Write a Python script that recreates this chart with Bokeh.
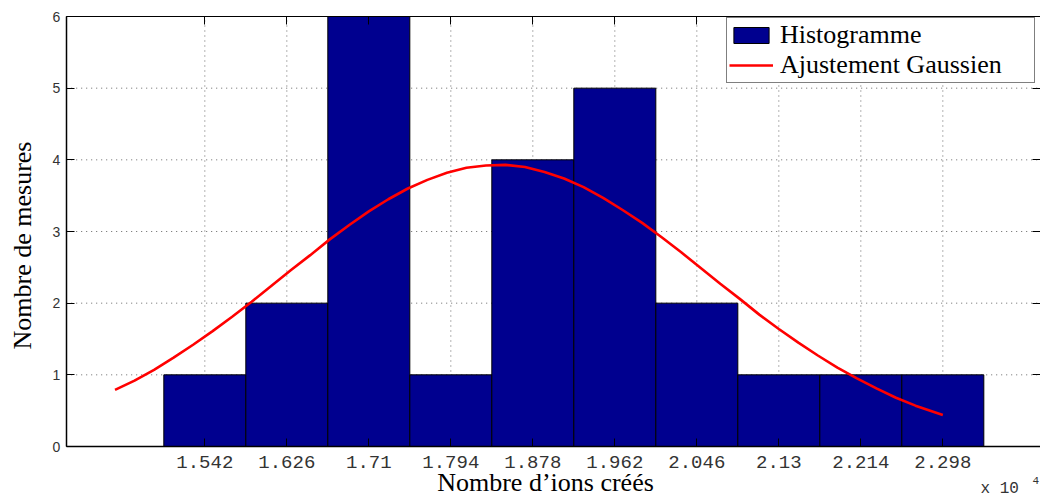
import math
from bokeh.plotting import figure
from bokeh.models import (Range1d, FixedTicker, LinearAxis, Legend, LegendItem, Label,
                          CustomJSTickFormatter)
from bokeh.embed import file_html
from bokeh.resources import INLINE

# ---- data (x values in units of 10^4) ----
bin_centers = [1.542, 1.626, 1.710, 1.794, 1.878, 1.962, 2.046, 2.130, 2.214, 2.298]
counts = [1, 2, 6, 1, 4, 5, 2, 1, 1, 1]
bin_width = 0.084
x_tick_labels = ["1.542", "1.626", "1.71", "1.794", "1.878", "1.962", "2.046", "2.13", "2.214", "2.298"]
y_ticks = [0, 1, 2, 3, 4, 5, 6]

fit_x = [1.45, 1.47, 1.49, 1.51, 1.53, 1.55, 1.57, 1.59, 1.61, 1.63, 1.65, 1.67,
         1.69, 1.71, 1.73, 1.75, 1.77, 1.79, 1.81, 1.83, 1.85, 1.87, 1.89, 1.91,
         1.93, 1.95, 1.97, 1.99, 2.01, 2.03, 2.05, 2.07, 2.09, 2.11, 2.13, 2.15,
         2.17, 2.19, 2.21, 2.23, 2.25, 2.27, 2.298]
fit_y = [0.79, 0.92, 1.07, 1.24, 1.42, 1.61, 1.81, 2.02, 2.24, 2.46, 2.67, 2.89,
         3.09, 3.28, 3.45, 3.60, 3.72, 3.82, 3.89, 3.92, 3.93, 3.90, 3.83, 3.74,
         3.62, 3.47, 3.30, 3.12, 2.92, 2.71, 2.49, 2.27, 2.06, 1.84, 1.64, 1.45,
         1.27, 1.10, 0.95, 0.81, 0.68, 0.57, 0.44]

# axes box (data units)
x_lo, x_hi = 1.40, 2.3975
y_lo, y_hi = 0, 6

# ---- layout: the frame covers the whole canvas, axes are pinned in data space ----
W, H = 1040, 497
AX_L, AX_B, AX_T = 65.7, 446.0, 16.0           # pixel positions of left/bottom/top of the axes box
PX_PER_X = 82.0 / 0.084
PX_PER_Y = (AX_B - AX_T) / (y_hi - y_lo)
view_x = (x_lo - AX_L / PX_PER_X, x_lo + (W - AX_L) / PX_PER_X)
view_y = (y_lo - (H - AX_B) / PX_PER_Y, y_hi + AX_T / PX_PER_Y)

def dx(px):
    return view_x[0] + px / PX_PER_X

def dy(py):
    return view_y[0] + (H - py) / PX_PER_Y

p = figure(width=W, height=H, output_backend="svg", toolbar_location=None,
           x_range=Range1d(*view_x), y_range=Range1d(*view_y),
           min_border=0)
p.background_fill_color = "white"
p.border_fill_color = "white"
p.outline_line_color = None
p.xgrid.visible = False
p.ygrid.visible = False

# dotted grid at the tick positions, inside the axes box
grid_style = dict(line_color="#666666", line_dash="1 4", line_width=1)
p.segment(x0=bin_centers, y0=[y_lo] * len(bin_centers), x1=bin_centers, y1=[y_hi] * len(bin_centers), **grid_style)
p.segment(x0=[x_lo] * len(y_ticks), y0=y_ticks, x1=[x_hi] * len(y_ticks), y1=y_ticks, **grid_style)

bars = p.vbar(x=bin_centers, width=bin_width, top=counts, bottom=0,
              fill_color="#00008F", line_color="black", line_width=1)
curve = p.line(fit_x, fit_y, line_color="#FF0000", line_width=2.6)

xt = FixedTicker(ticks=bin_centers, minor_ticks=[])
yt = FixedTicker(ticks=y_ticks, minor_ticks=[])

xa = p.xaxis[0]
xa.ticker = xt
xa.fixed_location = y_lo
xa.bounds = (x_lo, view_x[1])
xa.major_label_overrides = {c: s for c, s in zip(bin_centers, x_tick_labels)}
xa.major_label_text_font = "Liberation Mono"
xa.major_label_text_font_size = "19px"
xa.major_label_text_color = "#333333"
xa.major_label_standoff = 9
xa.major_tick_in = 8
xa.major_tick_out = 0
xa.minor_tick_line_color = None
xa.axis_line_width = 1.5

ya = p.yaxis[0]
ya.ticker = yt
ya.fixed_location = x_lo
ya.bounds = (y_lo, y_hi)
ya.major_label_text_font = "Liberation Sans"
ya.major_label_text_font_size = "14px"
ya.major_label_text_color = "#333333"
ya.major_label_standoff = 6
ya.major_tick_in = 8
ya.major_tick_out = 0
ya.minor_tick_line_color = None
ya.axis_line_width = 1.5

blank = CustomJSTickFormatter(code="return ''")
top_axis = LinearAxis(ticker=xt, formatter=blank, fixed_location=y_hi, bounds=(x_lo, view_x[1]),
                      major_tick_in=8, major_tick_out=0, major_label_text_color=None,
                      minor_tick_line_color=None, axis_line_width=1)
p.add_layout(top_axis, "above")
right_axis = LinearAxis(ticker=yt, formatter=blank, fixed_location=view_x[1], bounds=(y_lo, y_hi),
                        major_tick_in=8, major_tick_out=0, major_label_text_color=None,
                        minor_tick_line_color=None, axis_line_color=None)
p.add_layout(right_axis, "right")

# axis titles and the exponent note
p.add_layout(Label(x=dx(545), y=dy(482), text="Nombre d\u2019ions cr\u00e9\u00e9s",
                   text_font="Liberation Serif", text_font_size="26px", text_color="black",
                   text_align="center", text_baseline="alphabetic"))
p.add_layout(Label(x=dx(22), y=dy(245), text="Nombre de mesures", angle=math.pi / 2,
                   text_font="Liberation Serif", text_font_size="26px", text_color="black",
                   text_align="center", text_baseline="alphabetic"))
p.add_layout(Label(x=dx(980), y=dy(488), text="x  10", text_font="Liberation Mono",
                   text_font_size="16px", text_color="#333333", text_baseline="middle"))
p.add_layout(Label(x=dx(1032), y=dy(480), text="4", text_font="Liberation Mono",
                   text_font_size="11px", text_color="#333333", text_baseline="middle"))

legend = Legend(items=[LegendItem(label="Histogramme", renderers=[bars]),
                       LegendItem(label="Ajustement Gaussien", renderers=[curve])],
                location=(726, 414))
legend.label_text_font = "Liberation Serif"
legend.label_text_font_size = "26px"
legend.label_text_color = "black"
legend.glyph_width = 44
legend.glyph_height = 20
legend.label_height = 20
legend.label_width = 252
legend.label_standoff = 7
legend.spacing = -8
legend.padding = 2
legend.border_line_color = "black"
legend.border_line_width = 1.5
legend.background_fill_color = "white"
legend.background_fill_alpha = 1
p.add_layout(legend)

open("out.html", "w").write(file_html(p, INLINE))
